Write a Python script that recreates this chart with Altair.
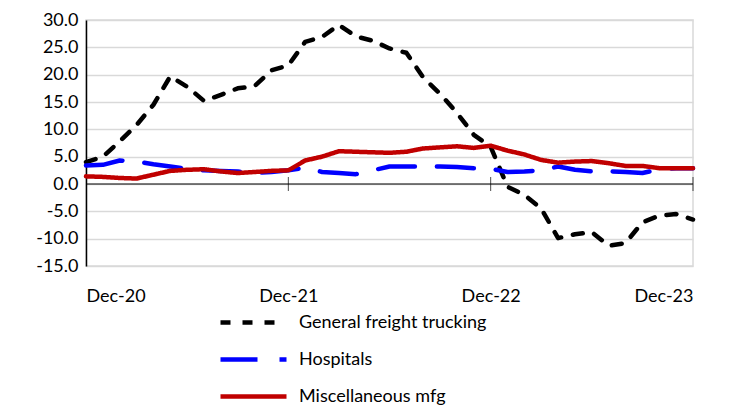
import altair as alt
import pandas as pd

series_names = ["General freight trucking", "Hospitals", "Miscellaneous mfg"]
freight = [4.0, 5.0, 7.8, 10.8, 14.5, 19.7, 17.8, 15.2, 16.3, 17.5, 17.9, 20.8, 21.7,
           26.0, 26.9, 29.1, 27.0, 26.2, 24.8, 24.0, 19.5, 16.5, 13.0, 9.0, 6.8,
           -0.5, -2.0, -4.5, -9.9, -9.2, -8.8, -11.3, -10.8, -7.0, -5.8, -5.5, -6.5]
hospitals = [3.4, 3.5, 4.3, 4.1, 3.6, 3.2, 2.8, 2.5, 2.4, 2.3, 2.0, 2.2, 2.5,
             3.0, 2.2, 2.0, 1.8, 2.5, 3.2, 3.2, 3.2, 3.2, 3.1, 2.9, 2.8,
             2.2, 2.3, 2.5, 3.2, 2.6, 2.3, 2.3, 2.2, 2.0, 2.7, 2.9, 2.9]
misc = [1.4, 1.3, 1.1, 1.0, 1.7, 2.4, 2.6, 2.7, 2.3, 2.0, 2.2, 2.4, 2.5,
        4.3, 5.0, 6.0, 5.9, 5.8, 5.7, 5.9, 6.5, 6.7, 6.9, 6.6, 7.0,
        6.1, 5.4, 4.4, 3.9, 4.1, 4.2, 3.8, 3.3, 3.3, 2.9, 2.9, 2.9]
tick_positions = [0, 12, 24, 36]
tick_labels = ["Dec-20", "Dec-21", "Dec-22", "Dec-23"]
y_ticks = [-15, -10, -5, 0, 5, 10, 15, 20, 25, 30]

rows = []
for name, vals in zip(series_names, [freight, hospitals, misc]):
    for i, v in enumerate(vals):
        rows.append({"idx": i, "value": v, "series": name})
df = pd.DataFrame(rows)
ticks_df = pd.DataFrame({"idx": tick_positions[1:], "value": [0] * 3})
zero_df = pd.DataFrame({"value": [0]})

FONT = "Lato"
label_expr = "[" + ",".join("'%s'" % t for t in tick_labels) + "][round(datum.value/12)]"
y_label_expr = "replace(format(datum.value, '.1f'), '\u2212', '-')"

x_axis = alt.Axis(values=tick_positions, labelExpr=label_expr, domain=False,
                  ticks=False, grid=False, title=None, labelPadding=21,
                  labelFontSize=18, labelFont=FONT, labelColor="black")
y_axis = alt.Axis(values=y_ticks, labelExpr=y_label_expr, labelOverlap=False,
                  domain=True, domainColor="black",
                  domainWidth=1.5, ticks=False, grid=True, gridColor="#D9D9D9",
                  gridWidth=1.5, title=None, labelFontSize=18, labelFont=FONT,
                  labelColor="black", labelPadding=8)
x_scale = alt.Scale(domain=[0, 36], nice=False, zero=False)
y_scale = alt.Scale(domain=[-15, 30], nice=False)

lines = alt.Chart(df).mark_line(strokeWidth=4.5, strokeCap="round", strokeJoin="round").encode(
    x=alt.X("idx:Q", scale=x_scale, axis=x_axis),
    y=alt.Y("value:Q", scale=y_scale, axis=y_axis),
    color=alt.Color("series:N", scale=alt.Scale(domain=series_names,
                                                range=["#000000", "#0000FF", "#C00000"]),
                    legend=alt.Legend(title=None, orient="none", legendX=176, legendY=289,
                                      direction="vertical", symbolType="M-5,0L1,0",
                                      symbolSize=484, symbolStrokeWidth=4.5,
                                      labelFontSize=18, labelFont=FONT, labelColor="black",
                                      labelLimit=0, rowPadding=14, labelOffset=10)),
    strokeDash=alt.StrokeDash("series:N",
                              scale=alt.Scale(domain=series_names,
                                              range=[[10, 12], [37, 22], [1, 0]]),
                              legend=None),
    order="idx:Q",
)

zero_rule = alt.Chart(zero_df).mark_rule(color="black", strokeWidth=1).encode(
    y=alt.Y("value:Q", scale=y_scale, axis=y_axis))

tick_marks = alt.Chart(ticks_df).mark_tick(orient="vertical", color="black", size=14, thickness=1).encode(
    x=alt.X("idx:Q", scale=x_scale, axis=x_axis),
    y=alt.Y("value:Q", scale=y_scale, axis=y_axis))

chart = alt.layer(lines, zero_rule, tick_marks).properties(
    width=607, height=246,
    autosize=alt.AutoSizeParams(type="none"),
    padding={"left": 78, "top": 12, "right": 30, "bottom": 140},
).configure_view(stroke="#D9D9D9", strokeWidth=1.5)

chart.save("out.html", embed_options={"renderer": "svg", "actions": False})
